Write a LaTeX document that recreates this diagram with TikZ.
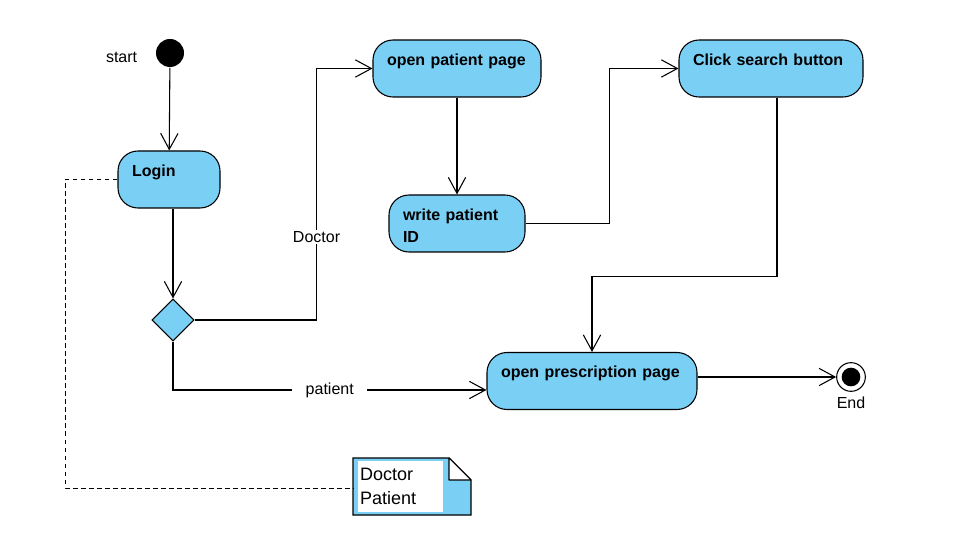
\documentclass[tikz,border=0pt]{standalone}
\usepackage{fontspec}
\setmainfont{Liberation Sans}
\usepackage{xcolor}
\usetikzlibrary{shapes,
	arrows.meta,
	calc,
	positioning}
\definecolor{actblue}{RGB}{122,207,245}
\tikzstyle{act}=[draw, fill=actblue, rounded corners=15pt, align=left,
		font=\fontsize{12}{16.5}\selectfont\bfseries, inner xsep=10.5pt,
		minimum height=42.75pt, text height=8.5pt, text depth=13pt]
\tikzstyle{dec}=[draw, diamond, fill=actblue, inner sep=0, minimum width=31.5pt, minimum height=31.5pt]
\tikzstyle{ini}=[circle, fill=black, inner sep=0, minimum size=21pt]
\tikzstyle{fin}=[circle, draw, fill=white, inner sep=0, minimum size=21.5pt]
\tikzstyle{flow}=[-{Straight Barb[length=12pt, width=13pt]}]
\tikzstyle{lbl}=[font=\fontsize{12}{14}\selectfont, fill=white, inner sep=1pt]
\tikzstyle{nt}=[fill=white, inner xsep=1.5pt, inner ysep=0, align=left, text width=60.75pt,
		minimum height=38.25pt, font=\fontsize{13.5}{18}\selectfont]

\begin{document}
\begin{tikzpicture}[x=0.75pt, y=-0.75pt, line width=0.8pt]
                \useasboundingbox (0,0) rectangle (978,541);
                \node[ini, label={[font=\fontsize{12}{14}\selectfont, label distance=10pt, yshift=-3pt]left:start}] (start) at (170,53) {};
                \node[act, text width=55.5pt] (login) at (169,179.5) {Login};
                \node[dec] (dec) at (173,320) {};
                \node[act, text width=105pt] (opp) at (457,68.5) {open patient page};
                \node[act, text width=81pt] (wpid) at (457,223.5) {write patient\\ID};
                \node[act, text width=117pt] (csb) at (771,68.5) {Click search button};
                \node[act, text width=136.5pt] (opr) at (592,381) {open prescription page};
                \node[fin, label={[font=\fontsize{12}{14}\selectfont, label distance=0pt]below:End}] (end) at (851,377) {};
                \fill (end) circle (7pt);

                \draw[fill=actblue] (353,458) -- (449,458) -- (471,480) -- (471,515) -- (353,515) -- cycle;
                \draw[fill=white, line join=round] (449,458) -- (449,480) -- (471,480) -- cycle;
                \node[nt] (note) at (400.5,486.5) {Doctor\\Patient};
                \coordinate (notew) at (353,488);

                \draw[flow] (start) -- (login);
                \draw[flow] (login.south -| dec) -- (dec.north);
                \draw[flow] (dec.east) -- ++(122,0) |- (opp.west)
                    node[lbl, pos=0.165] {Doctor};
                \draw[flow] (dec.south) |- ([yshift=-6.75pt]opr.west)
                    node[lbl, pos=0.75, inner xsep=10pt] {patient};
                \draw[flow] (opp) -- (wpid);
                \draw[flow] (wpid.east) -- ++(84,0) |- (csb.west);
                \draw[flow] ([xshift=4.5pt]csb.south) -- ++(0,179) -| (opr.north);
                \draw[flow] ([yshift=3pt]opr.east) -- (end);
                \draw[dash pattern=on 3.5pt off 2.5pt, line width=0.7pt] (login.west) -- ++(-52,0) |- (notew);
            \end{tikzpicture}
\end{document}
